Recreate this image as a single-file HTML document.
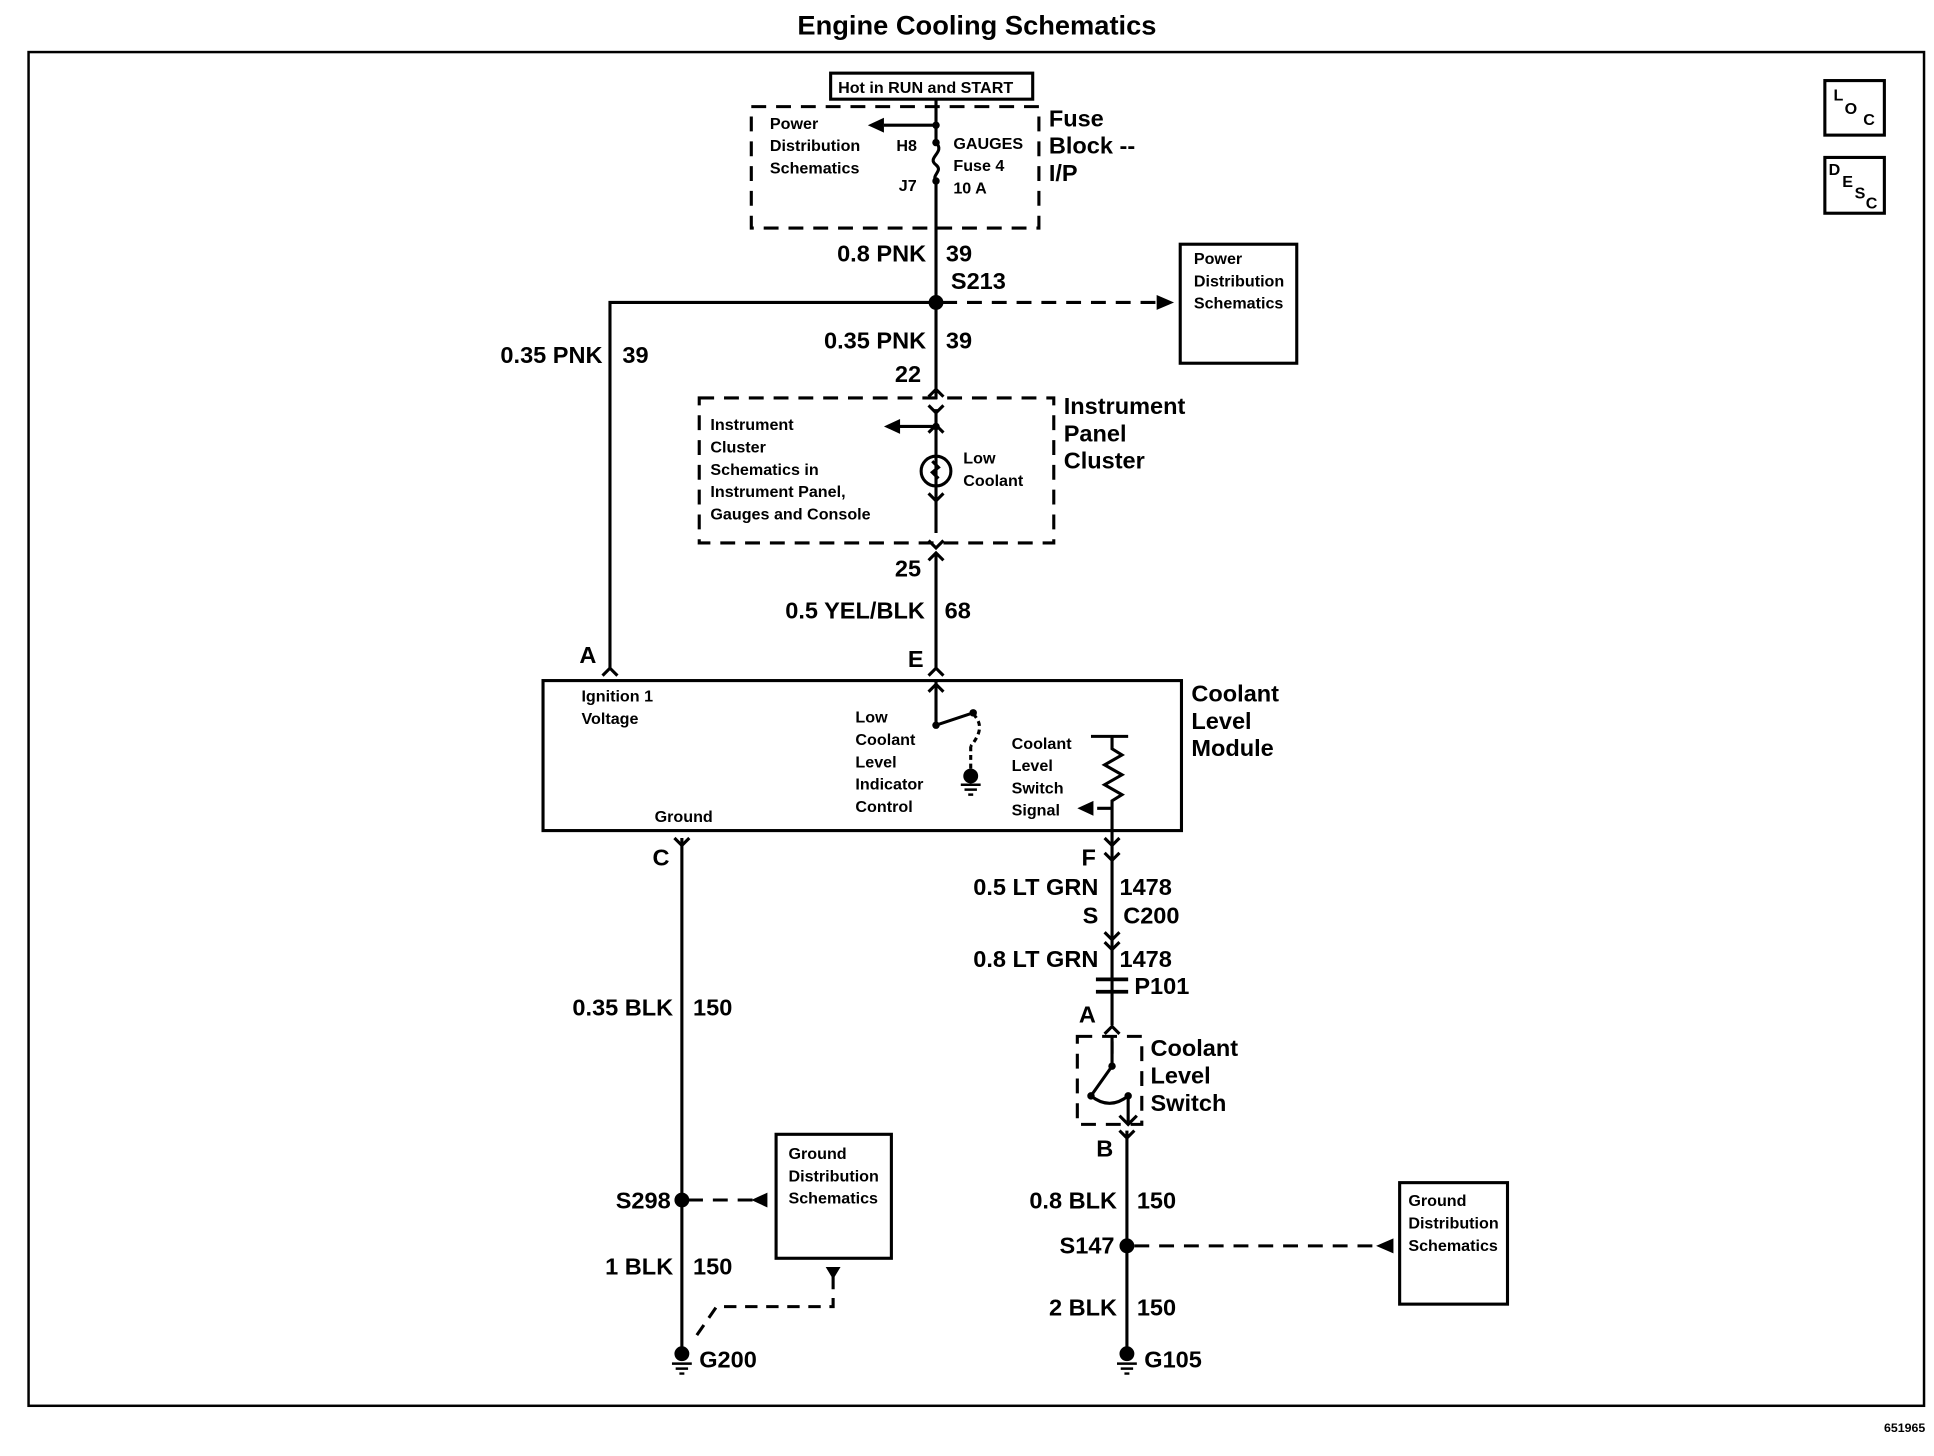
<!DOCTYPE html>
<html><head><meta charset="utf-8"><style>
html,body{margin:0;padding:0;background:#fff;}
svg{display:block;}
text{font-family:"Liberation Sans",sans-serif;fill:#000;}
.b{font-size:19px;}
.s{font-size:13px;}
.r{text-anchor:end;}
</style></head><body>
<svg width="1934" height="1456" viewBox="0 0 1560 1174.5" xmlns="http://www.w3.org/2000/svg">
<rect width="1560" height="1175" fill="#fff"/>
<g stroke="#000" fill="none" stroke-width="2.5">
<text x="788" y="28" text-anchor="middle" style="font-size:22px;font-weight:bold" stroke="none">Engine Cooling Schematics</text>
<rect x="23" y="42" width="1529" height="1092" stroke-width="2"/>
<rect x="1472" y="65" width="48" height="44"/>
<rect x="1472" y="127" width="48" height="45"/>
<rect x="670" y="59" width="163" height="21"/>
<rect x="606" y="86" width="232" height="98" stroke-dasharray="12,8"/>
<rect x="564" y="321" width="286" height="117" stroke-dasharray="12,8"/>
<rect x="952" y="197" width="94" height="96"/>
<rect x="438" y="549" width="515" height="121"/>
<rect x="626" y="915" width="93" height="100"/>
<rect x="1129" y="954" width="87" height="98"/>
<rect x="869" y="836" width="52" height="71" stroke-dasharray="12,8"/>
<path d="M755 80V115 M755 146V322 M755 330V430 M755 446V540 M755 548V585 M755 585L785 575"/>
<path d="M755 115c8 8-8 12 0 18c6 5-4 8 0 13"/>
<path d="M755 101H713"/>
<path d="M755 244H492V540"/>
<path d="M760 244H935" stroke-dasharray="12,8"/>
<path d="M755 344H725"/>
<circle cx="755" cy="380" r="12"/>
<path d="M752 372l5 5l-5 4l5 5"/>
<path d="M749 320l6-6l6 6 M749 327l6 6l6-6 M749 349l6-6l6 6 M749 398l6 6l6-6 M749 436l6 6l6-6 M749 452l6-6l6 6 M749 545l6-6l6 6 M749 558l6-6l6 6 M486 545l6-6l6 6"/>
<path d="M785 576c8 8 6 16 -2 26 M783 602V620" stroke-dasharray="4,3"/>
<path d="M880 594H910 M897 594V604l8 5l-14 8l14 8l-14 8l14 8l-8 5V680 M897 652H885"/>
<path d="M550 676V1090 M897 680V827 M897 835V850"/>
<path d="M544 676l6 6l6-6 M891 676l6 6l6-6 M891 688l6 6l6-6 M891 752l6 6l6-6 M891 760l6 6l6-6 M891 834l6-6l6 6"/>
<path d="M884 790h26 M884 800h26" stroke-width="3"/>
<path d="M897 840V860 M897 860L880 884 M880 884c10 8 20 8 30 0" stroke-dasharray="none"/>
<path d="M910 884V905 M903 900l7 7l7-7"/>
<path d="M909 912V1090 M903 912l6 6l6-6"/>
<path d="M555 968H610 M915 1005H1110" stroke-dasharray="12,8"/>
<path d="M672 1030V1054H578L560 1080" stroke-dasharray="10,7"/>
</g>
<g fill="#000">
<polygon points="700,101 713,95 713,107"/>
<polygon points="947,244 933,238 933,250"/>
<polygon points="713,344 726,338 726,350"/>
<polygon points="869,652 882,646 882,658"/>
<polygon points="606,968 619,962 619,974"/>
<polygon points="1110,1005 1124,999 1124,1011"/>
<polygon points="666,1022 678,1022 672,1032"/>
<circle cx="755" cy="244" r="6"/>
<circle cx="550" cy="968" r="6"/>
<circle cx="909" cy="1005" r="6"/>
<circle cx="755" cy="115" r="3"/><circle cx="755" cy="146" r="3"/>
<circle cx="755" cy="101" r="3"/><circle cx="755" cy="344" r="3"/>
<circle cx="755" cy="585" r="3"/><circle cx="785" cy="575" r="3"/>
<circle cx="783" cy="626" r="6"/>
<circle cx="550" cy="1092" r="6"/><circle cx="909" cy="1092" r="6"/>
<circle cx="897" cy="860" r="3"/><circle cx="880" cy="884" r="3"/><circle cx="910" cy="884" r="3"/>
</g>
<g stroke="#000" stroke-width="2">
<path d="M775 633h16M778 637h10M781 641h4"/>
<path d="M542 1100h16M545 1104h10M548 1108h4"/>
<path d="M901 1100h16M904 1104h10M907 1108h4"/>
</g>
<g style="font-weight:bold">
<text x="1479" y="81" class="s">L</text><text x="1488" y="92" class="s">O</text><text x="1503" y="101" class="s">C</text>
<text x="1475" y="141" class="s">D</text><text x="1486" y="151" class="s">E</text><text x="1496" y="160" class="s">S</text><text x="1505" y="168" class="s">C</text>
<text x="676" y="75" class="s">Hot in RUN and START</text>
<text x="621" y="104" class="s">Power</text><text x="621" y="122" class="s">Distribution</text><text x="621" y="140" class="s">Schematics</text>
<text x="723" y="122" class="s">H8</text><text x="725" y="154" class="s">J7</text>
<text x="769" y="120" class="s">GAUGES</text><text x="769" y="138" class="s">Fuse 4</text><text x="769" y="156" class="s">10 A</text>
<text x="846" y="102" class="b">Fuse</text><text x="846" y="124" class="b">Block --</text><text x="846" y="146" class="b">I/P</text>
<text x="747" y="211" class="b r">0.8 PNK</text><text x="763" y="211" class="b">39</text><text x="767" y="233" class="b">S213</text>
<text x="963" y="213" class="s">Power</text><text x="963" y="231" class="s">Distribution</text><text x="963" y="249" class="s">Schematics</text>
<text x="747" y="281" class="b r">0.35 PNK</text><text x="763" y="281" class="b">39</text>
<text x="486" y="293" class="b r">0.35 PNK</text><text x="502" y="293" class="b">39</text>
<text x="743" y="308" class="b r">22</text>
<text x="573" y="347" class="s">Instrument</text><text x="573" y="365" class="s">Cluster</text><text x="573" y="383" class="s">Schematics in</text><text x="573" y="401" class="s">Instrument Panel,</text><text x="573" y="419" class="s">Gauges and Console</text>
<text x="777" y="374" class="s">Low</text><text x="777" y="392" class="s">Coolant</text>
<text x="858" y="334" class="b">Instrument</text><text x="858" y="356" class="b">Panel</text><text x="858" y="378" class="b">Cluster</text>
<text x="743" y="465" class="b r">25</text>
<text x="746" y="499" class="b r">0.5 YEL/BLK</text><text x="762" y="499" class="b">68</text>
<text x="745" y="538" class="b r">E</text><text x="481" y="535" class="b r">A</text>
<text x="961" y="566" class="b">Coolant</text><text x="961" y="588" class="b">Level</text><text x="961" y="610" class="b">Module</text>
<text x="469" y="566" class="s">Ignition 1</text><text x="469" y="584" class="s">Voltage</text>
<text x="528" y="663" class="s">Ground</text>
<text x="690" y="583" class="s">Low</text><text x="690" y="601" class="s">Coolant</text><text x="690" y="619" class="s">Level</text><text x="690" y="637" class="s">Indicator</text><text x="690" y="655" class="s">Control</text>
<text x="816" y="604" class="s">Coolant</text><text x="816" y="622" class="s">Level</text><text x="816" y="640" class="s">Switch</text><text x="816" y="658" class="s">Signal</text>
<text x="540" y="698" class="b r">C</text><text x="884" y="698" class="b r">F</text>
<text x="886" y="722" class="b r">0.5 LT GRN</text><text x="903" y="722" class="b">1478</text>
<text x="886" y="745" class="b r">S</text><text x="906" y="745" class="b">C200</text>
<text x="886" y="780" class="b r">0.8 LT GRN</text><text x="903" y="780" class="b">1478</text>
<text x="915" y="802" class="b">P101</text>
<text x="884" y="825" class="b r">A</text>
<text x="928" y="852" class="b">Coolant</text><text x="928" y="874" class="b">Level</text><text x="928" y="896" class="b">Switch</text>
<text x="898" y="933" class="b r">B</text>
<text x="543" y="819" class="b r">0.35 BLK</text><text x="559" y="819" class="b">150</text>
<text x="541" y="975" class="b r">S298</text>
<text x="636" y="935" class="s">Ground</text><text x="636" y="953" class="s">Distribution</text><text x="636" y="971" class="s">Schematics</text>
<text x="543" y="1028" class="b r">1 BLK</text><text x="559" y="1028" class="b">150</text>
<text x="564" y="1103" class="b">G200</text>
<text x="901" y="975" class="b r">0.8 BLK</text><text x="917" y="975" class="b">150</text>
<text x="899" y="1011" class="b r">S147</text>
<text x="901" y="1061" class="b r">2 BLK</text><text x="917" y="1061" class="b">150</text>
<text x="923" y="1103" class="b">G105</text>
<text x="1136" y="973" class="s">Ground</text><text x="1136" y="991" class="s">Distribution</text><text x="1136" y="1009" class="s">Schematics</text>
<text x="1553" y="1155" class="r" style="font-size:10px">651965</text>
</g>
</svg>
</body></html>
